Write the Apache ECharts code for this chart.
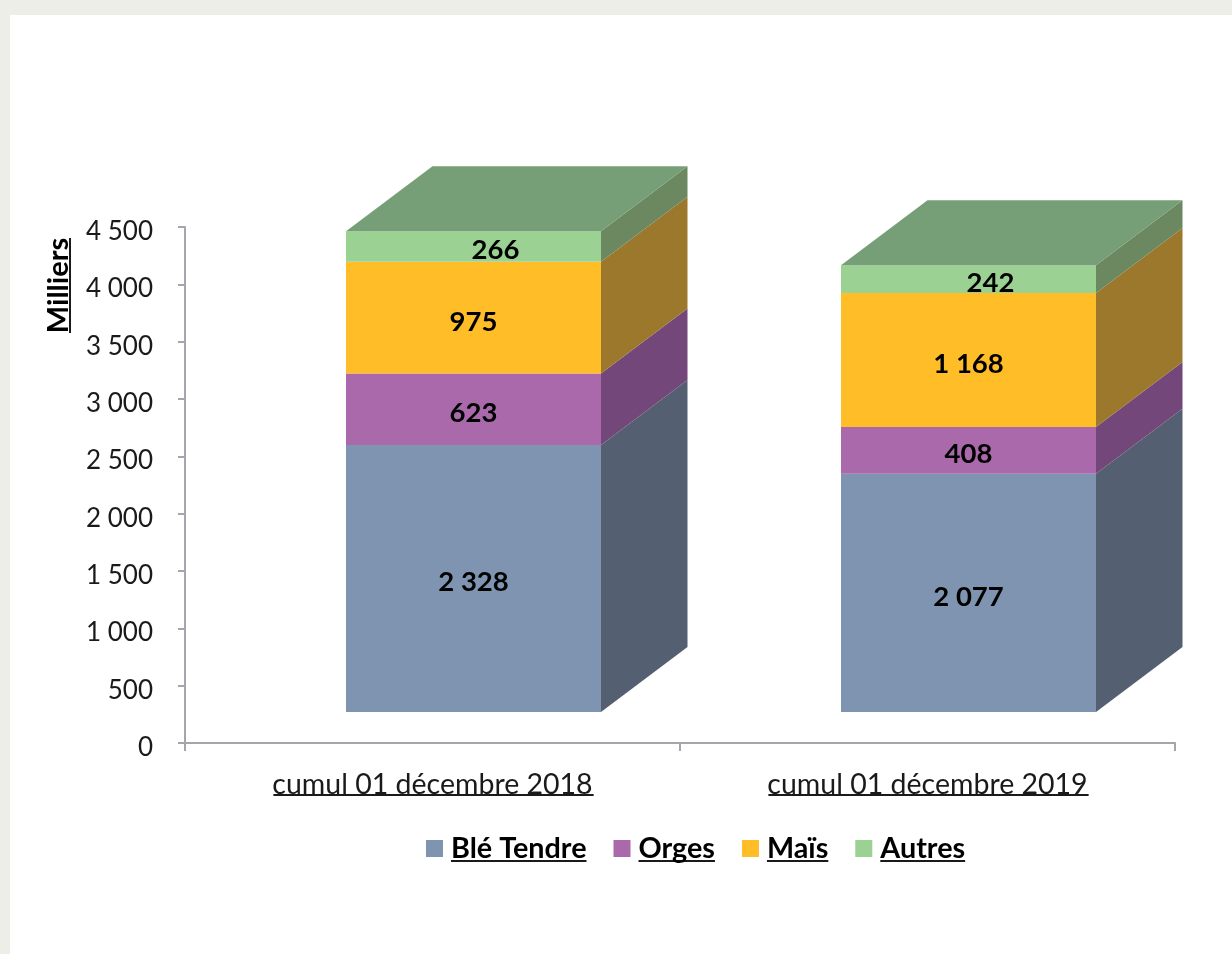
<!DOCTYPE html>
<html>
<head>
<meta charset="utf-8">
<title>Collecte cumulée</title>
<script src="https://cdn.jsdelivr.net/npm/echarts@6/dist/echarts.min.js"></script>
<style>
  html, body { margin: 0; padding: 0; background: #fff; }
  #chart { width: 1232px; height: 954px; }
</style>
</head>
<body>
<div id="chart"></div>
<script>
const CATEGORIES = ['cumul 01 décembre 2018', 'cumul 01 décembre 2019']
const SERIES_NAMES = ['Blé Tendre', 'Orges', 'Maïs', 'Autres']
const BLE_TENDRE = [2328, 2077]
const ORGES = [623, 408]
const MAIS = [975, 1168]
const AUTRES = [266, 242]
const Y_TICKS_MAX = 4500
const Y_TICK_STEP = 500

const FRONT_COLORS = ['#7f94b0', '#a969aa', '#ffbd27', '#9bd192']
const SIDE_COLORS = ['#546072', '#74477a', '#9c782c', '#6b8860']
const TOP_COLOR = '#769f77'

const FONT = 'Lato, "Open Sans", sans-serif'
const GRID = { left: 185, right: 57, top: 227, bottom: 211 }
const BAR_W = 255
const BAR_SHIFT_X = 41 // barres décalées vers la droite de la catégorie
const BAR_SHIFT_Y = -31 // et vers le haut (faux 3D d'Excel)
const DEPTH_X = 86.5
const DEPTH_Y = -65

const VALUES = [BLE_TENDRE, ORGES, MAIS, AUTRES]

const fmt = (v) => String(v).replace(/\B(?=(\d{3})+$)/g, ' ')

function stackBase(seriesIdx, catIdx) {
  let sum = 0
  for (let i = 0; i < seriesIdx; i++) sum += VALUES[i][catIdx]
  return sum
}

function renderSegment(seriesIdx) {
  return (params, api) => {
    const cat = api.value(0)
    const val = api.value(1)
    const base = stackBase(seriesIdx, cat)
    const p0 = api.coord([cat, base])
    const p1 = api.coord([cat, base + val])
    const x0 = p0[0] + BAR_SHIFT_X - BAR_W / 2
    const x1 = x0 + BAR_W
    const yb = p0[1] + BAR_SHIFT_Y
    const yt = p1[1] + BAR_SHIFT_Y
    const children = [
      {
        type: 'polygon',
        shape: { points: [[x1, yb], [x1 + DEPTH_X, yb + DEPTH_Y], [x1 + DEPTH_X, yt + DEPTH_Y], [x1, yt]] },
        style: { fill: SIDE_COLORS[seriesIdx] },
      },
      {
        type: 'rect',
        shape: { x: x0, y: yt, width: BAR_W, height: yb - yt },
        style: { fill: FRONT_COLORS[seriesIdx] },
      },
    ]
    if (seriesIdx === VALUES.length - 1) {
      children.push({
        type: 'polygon',
        shape: { points: [[x0, yt], [x0 + DEPTH_X, yt + DEPTH_Y], [x1 + DEPTH_X, yt + DEPTH_Y], [x1, yt]] },
        style: { fill: TOP_COLOR },
      })
    }
    // "Autres" : étiquette décalée à droite comme dans l'original
    const labelDx = seriesIdx === VALUES.length - 1 ? 22 : 0
    children.push({
      type: 'text',
      style: {
        x: x0 + BAR_W / 2 + labelDx,
        y: (yt + yb) / 2 + 4,
        text: fmt(val),
        align: 'center',
        verticalAlign: 'middle',
        fill: '#000',
        font: 'bold 27.5px ' + FONT,
      },
    })
    return { type: 'group', children }
  }
}

const chart = echarts.init(document.getElementById('chart'))

const ctx = document.createElement('canvas').getContext('2d')
function textWidth(text, font) {
  ctx.font = font
  return ctx.measureText(text).width
}

const CAT_FONT = 28.5
const TICK_FONT = 26
const NAME_FONT = 29
const LEGEND_FONT = 28.75
const LEGEND = { left: 426, top: 834, icon: 17, iconGap: 8, gap: 27 }

function line(x, y, w, h) {
  return { type: 'rect', silent: true, shape: { x, y, width: w, height: h }, style: { fill: '#1a1a1a' } }
}

function buildUnderlines() {
  const out = []
  // étiquettes de catégories
  CATEGORIES.forEach((c) => {
    const cx = chart.convertToPixel({ xAxisIndex: 0 }, c)
    const w = textWidth(c, `${CAT_FONT}px ${FONT}`)
    out.push(line(cx - w / 2 + 1, 794, w, 2))
  })
  // légende
  let x = LEGEND.left
  SERIES_NAMES.forEach((n) => {
    const w = textWidth(n, `bold ${LEGEND_FONT}px ${FONT}`)
    const tx = x + LEGEND.icon + LEGEND.iconGap
    out.push(line(tx, 860, w, 2))
    x = tx + w + LEGEND.gap
  })
  // titre de l'axe
  out.push(line(69, 238, 2, 95))
  return out
}

const option = {
  animation: false,
  backgroundColor: '#fff',
  textStyle: { fontFamily: FONT },
  grid: GRID,
  legend: {
    left: LEGEND.left,
    top: LEGEND.top,
    padding: 0,
    icon: 'rect',
    itemWidth: LEGEND.icon,
    itemHeight: LEGEND.icon,
    itemGap: LEGEND.gap,
    data: SERIES_NAMES,
    textStyle: { color: '#000', fontWeight: 'bold', fontSize: LEGEND_FONT, fontFamily: FONT, padding: [0, 0, 0, 3] },
  },
  xAxis: {
    type: 'category',
    data: CATEGORIES,
    axisLine: { lineStyle: { color: '#a5a5ab', width: 2 } },
    axisTick: { show: true, alignWithLabel: false, length: 8, lineStyle: { color: '#a5a5ab', width: 2 } },
    axisLabel: { color: '#1a1a1a', fontSize: CAT_FONT, fontFamily: FONT, margin: 27 },
  },
  yAxis: {
    type: 'value',
    min: 0,
    max: Y_TICKS_MAX,
    interval: Y_TICK_STEP,
    name: 'Milliers',
    nameLocation: 'middle',
    nameRotate: 90,
    nameGap: 112,
    nameTextStyle: { color: '#000', fontWeight: 'bold', fontSize: NAME_FONT, fontFamily: FONT, padding: [0, 0, 0, 399] },
    splitLine: { show: false },
    axisLine: { show: true, lineStyle: { color: '#a5a5ab', width: 2 } },
    axisTick: { show: true, length: 7, lineStyle: { color: '#a5a5ab', width: 2 } },
    // libellés un peu sous leur graduation, comme dans l'original
    axisLabel: { color: '#1a1a1a', fontSize: TICK_FONT, fontFamily: FONT, margin: 32, verticalAlign: 'top', lineHeight: 9, formatter: (v) => fmt(v) },
  },
  series: SERIES_NAMES.map((name, i) => ({
    name,
    type: 'custom',
    coordinateSystem: 'cartesian2d',
    itemStyle: { color: FRONT_COLORS[i] },
    encode: { x: 0, y: 1 },
    data: VALUES[i].map((v, c) => [c, v]),
    renderItem: renderSegment(i),
    z: 2 + i,
  })),
}

chart.setOption(option)

// cadre gris clair + soulignés, une fois les axes posés
chart.setOption({
  graphic: [
    { type: 'rect', silent: true, shape: { x: 0, y: 0, width: 1232, height: 15 }, style: { fill: '#eeeee8' } },
    { type: 'rect', silent: true, shape: { x: 0, y: 0, width: 10, height: 954 }, style: { fill: '#eeeee8' } },
    ...buildUnderlines(),
  ],
})
</script>
</body>
</html>
